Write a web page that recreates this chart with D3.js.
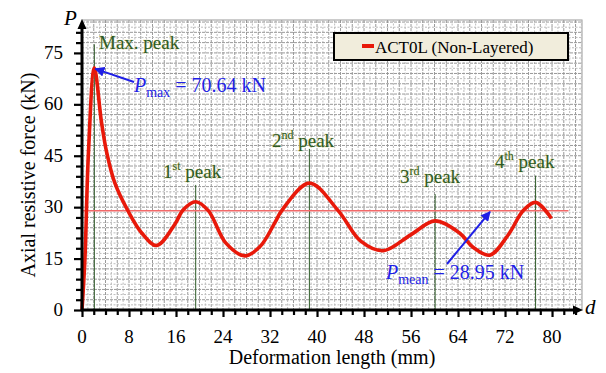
<!DOCTYPE html>
<html>
<head>
<meta charset="utf-8">
<script src="https://cdn.jsdelivr.net/npm/d3@7"></script>
<style>
  html, body { margin: 0; padding: 0; background: #fff; }
  svg { display: block; font-family: "Liberation Serif", "Times New Roman", serif; }
</style>
</head>
<body>
<svg id="chart" width="606" height="373"></svg>
<script>
// Deformation length (mm) and axial resistive force (kN)
const deformation = [0, 0.5, 1.1, 2.1, 3.3, 4.2, 5.6, 7.9, 10.2, 12.7, 15.8, 17.2, 19.35, 21.5, 24.5,
  27.7, 30.3, 32.9, 34.0, 38.7, 43.6, 47.5, 51.3, 56.0, 60.1, 64.3, 66.5, 69.4, 72.5, 75.1, 77.2, 79.9];
const force = [0, 15, 46, 70.64, 55, 46, 37, 28.7, 22.4, 18.8, 25, 29.2, 31.6, 29, 19.5,
  15.8, 18.5, 25.7, 29, 37, 29, 20, 17.3, 22, 26, 22.4, 18.4, 16, 21.8, 29, 31.4, 26.7];

const seriesName = "ACT0L (Non-Layered)";
const pMax = 70.64;
const pMean = 28.95;

// Peak markers: position (mm) and label parts
const peakPositions = [2.1, 19.35, 38.7, 60.1, 77.2];
const peakLabels = [
  { main: "Max. peak", sup: "", rest: "" },
  { main: "1", sup: "st", rest: " peak" },
  { main: "2", sup: "nd", rest: " peak" },
  { main: "3", sup: "rd", rest: " peak" },
  { main: "4", sup: "th", rest: " peak" }
];
const peakLabelForce = [76, 38.5, 47.5, 37, 41.5];
const peakLineTop = [77.5, 36.5, 47, 33.8, 39.2];

const xTicks = [0, 8, 16, 24, 32, 40, 48, 56, 64, 72, 80];
const yTicks = [0, 15, 30, 45, 60, 75];

const svg = d3.select("#chart");
const plotL = 82, plotR = 582, plotT = 20, plotB = 310;
const x = d3.scaleLinear().domain([0, 85.1]).range([plotL, plotR]);
const y = d3.scaleLinear().domain([0, 84.6]).range([plotB, plotT]);

// Grid
const grid = svg.append("g");
grid.append("rect").attr("x", plotL).attr("y", plotT)
  .attr("width", plotR - plotL).attr("height", plotB - plotT)
  .attr("fill", "#fff").attr("stroke", "#999").attr("stroke-width", 1);
d3.range(1, 86, 1).forEach(v => {
  const major = v % 2 === 0;
  grid.append("line").attr("x1", x(v)).attr("x2", x(v)).attr("y1", plotT).attr("y2", plotB)
    .attr("stroke", major ? "#9a9a9a" : "#bdbdbd").attr("stroke-width", 1)
    .attr("stroke-dasharray", major ? "3,1" : "2,1.5");
});
d3.range(1.5, 84.6, 1.5).forEach(v => {
  const major = Math.abs(v / 3 - Math.round(v / 3)) < 1e-6;
  grid.append("line").attr("x1", plotL).attr("x2", plotR).attr("y1", y(v)).attr("y2", y(v))
    .attr("stroke", major ? "#9a9a9a" : "#bdbdbd").attr("stroke-width", 1)
    .attr("stroke-dasharray", major ? "3,1" : "2,1.5");
});

// Peak marker lines
const green = "#2d5a27";
peakPositions.forEach((p, i) => {
  svg.append("line").attr("x1", x(p)).attr("x2", x(p))
    .attr("y1", y(peakLineTop[i])).attr("y2", plotB)
    .attr("stroke", green).attr("stroke-width", 1);
});

// Mean force line
svg.append("line").attr("x1", plotL).attr("x2", x(82.8))
  .attr("y1", y(pMean)).attr("y2", y(pMean))
  .attr("stroke", "#f26a6a").attr("stroke-width", 1.6);

// Force-deformation curve
const line = d3.line().x((d, i) => x(deformation[i])).y(d => y(d))
  .curve(d3.curveCatmullRom.alpha(0.5));
svg.append("path").datum(force).attr("d", line)
  .attr("fill", "none").attr("stroke", "#e8190a").attr("stroke-width", 3.6)
  .attr("stroke-linejoin", "round");

// Axes
const xAxis = d3.axisBottom(x).tickValues(d3.range(0, 85, 2)).tickSizeOuter(0)
  .tickSize(4).tickFormat("");
const gx = svg.append("g").attr("transform", `translate(0,${plotB})`).call(xAxis);
gx.selectAll(".tick line").attr("stroke", "#000").attr("stroke-width", 2.2)
  .attr("y2", d => d % 8 === 0 ? 7 : 5);
gx.select(".domain").remove();

const yAxis = d3.axisLeft(y).tickValues(d3.range(0, 84, 3)).tickSizeOuter(0)
  .tickSize(4).tickFormat("");
const gy = svg.append("g").attr("transform", `translate(${plotL},0)`).call(yAxis);
gy.selectAll(".tick line").attr("stroke", "#000").attr("stroke-width", 2.2)
  .attr("x2", d => d % 15 === 0 ? -8 : -6);
gy.select(".domain").remove();

svg.append("line").attr("x1", plotL - 1).attr("x2", plotR - 6).attr("y1", plotB).attr("y2", plotB)
  .attr("stroke", "#000").attr("stroke-width", 3);
svg.append("line").attr("x1", plotL).attr("x2", plotL).attr("y1", plotB + 1).attr("y2", plotT + 6)
  .attr("stroke", "#000").attr("stroke-width", 3);
svg.append("path").attr("d", `M${plotR + 1},${plotB} L${plotR - 9},${plotB - 4.5} L${plotR - 9},${plotB + 4.5} Z`)
  .attr("fill", "#000");
svg.append("path").attr("d", `M${plotL},${plotT - 1} L${plotL - 4.5},${plotT + 9} L${plotL + 4.5},${plotT + 9} Z`)
  .attr("fill", "#000");

// Tick labels
svg.append("g").selectAll("text").data(xTicks).join("text")
  .attr("x", d => x(d)).attr("y", 343).attr("text-anchor", "middle")
  .attr("font-size", 19).attr("fill", "#000").text(d => d);
svg.append("g").selectAll("text").data(yTicks).join("text")
  .attr("x", 63).attr("y", d => y(d) + 6).attr("text-anchor", "end")
  .attr("font-size", 19).attr("fill", "#000").text(d => d);

// Axis titles
svg.append("text").attr("x", 332).attr("y", 364).attr("text-anchor", "middle")
  .attr("font-size", 20).attr("fill", "#000").text("Deformation length (mm)");
svg.append("text").attr("transform", `translate(35,${(plotT + plotB) / 2 + 10}) rotate(-90)`)
  .attr("text-anchor", "middle").attr("font-size", 20).attr("fill", "#000")
  .text("Axial resistive force (kN)");
svg.append("text").attr("x", 64).attr("y", 25).attr("font-size", 21)
  .attr("font-style", "italic").attr("fill", "#000").text("P");
svg.append("text").attr("x", 585).attr("y", 314).attr("font-size", 21)
  .attr("font-style", "italic").attr("fill", "#000").text("d");

// Peak labels
const peakLabelX = [99, 163, 272, 400, 495];
peakLabels.forEach((lab, i) => {
  const t = svg.append("text").attr("x", peakLabelX[i]).attr("y", y(peakLabelForce[i]))
    .attr("font-size", 19).attr("fill", green)
    .style("paint-order", "stroke").attr("stroke", "#e8e4a0").attr("stroke-width", 0.6);
  t.append("tspan").text(lab.main);
  if (lab.sup) {
    t.append("tspan").attr("font-size", 12).attr("dy", -8).text(lab.sup);
    t.append("tspan").attr("dy", 8).text(lab.rest);
  }
});

// Legend
const lg = svg.append("g");
lg.append("rect").attr("x", 334).attr("y", 33).attr("width", 234).attr("height", 27)
  .attr("fill", "#f1eddc").attr("stroke", "#000").attr("stroke-width", 2);
lg.append("line").attr("x1", 362).attr("x2", 374).attr("y1", 46).attr("y2", 46)
  .attr("stroke", "#e8190a").attr("stroke-width", 4);
lg.append("text").attr("x", 375).attr("y", 53).attr("font-size", 17).attr("fill", "#000")
  .text(seriesName);

// Annotations
const blue = "#1f1fe6";
svg.append("defs").append("marker").attr("id", "arr").attr("viewBox", "0 0 10 10")
  .attr("refX", 9).attr("refY", 5).attr("markerWidth", 5).attr("markerHeight", 5)
  .attr("orient", "auto").attr("markerUnits", "strokeWidth")
  .append("path").attr("d", "M0,0 L10,5 L0,10 Z").attr("fill", blue);

svg.append("line").attr("x1", 134).attr("y1", 82).attr("x2", x(2.1) + 1).attr("y2", y(pMax) + 1)
  .attr("stroke", blue).attr("stroke-width", 2).attr("marker-end", "url(#arr)");
svg.append("line").attr("x1", 447).attr("y1", 264).attr("x2", 490).attr("y2", y(pMean) + 1)
  .attr("stroke", blue).attr("stroke-width", 2).attr("marker-end", "url(#arr)");

function pLabel(xp, yp, sub, val) {
  const t = svg.append("text").attr("x", xp).attr("y", yp).attr("font-size", 20).attr("fill", blue);
  t.append("tspan").attr("font-style", "italic").text("P");
  t.append("tspan").attr("font-size", 14).attr("dy", 5).text(sub);
  t.append("tspan").attr("dy", -5).text(" = " + val + " kN");
}
pLabel(134, 92, "max", pMax.toFixed(2));
pLabel(386, 279, "mean", pMean.toFixed(2));
</script>
</body>
</html>
